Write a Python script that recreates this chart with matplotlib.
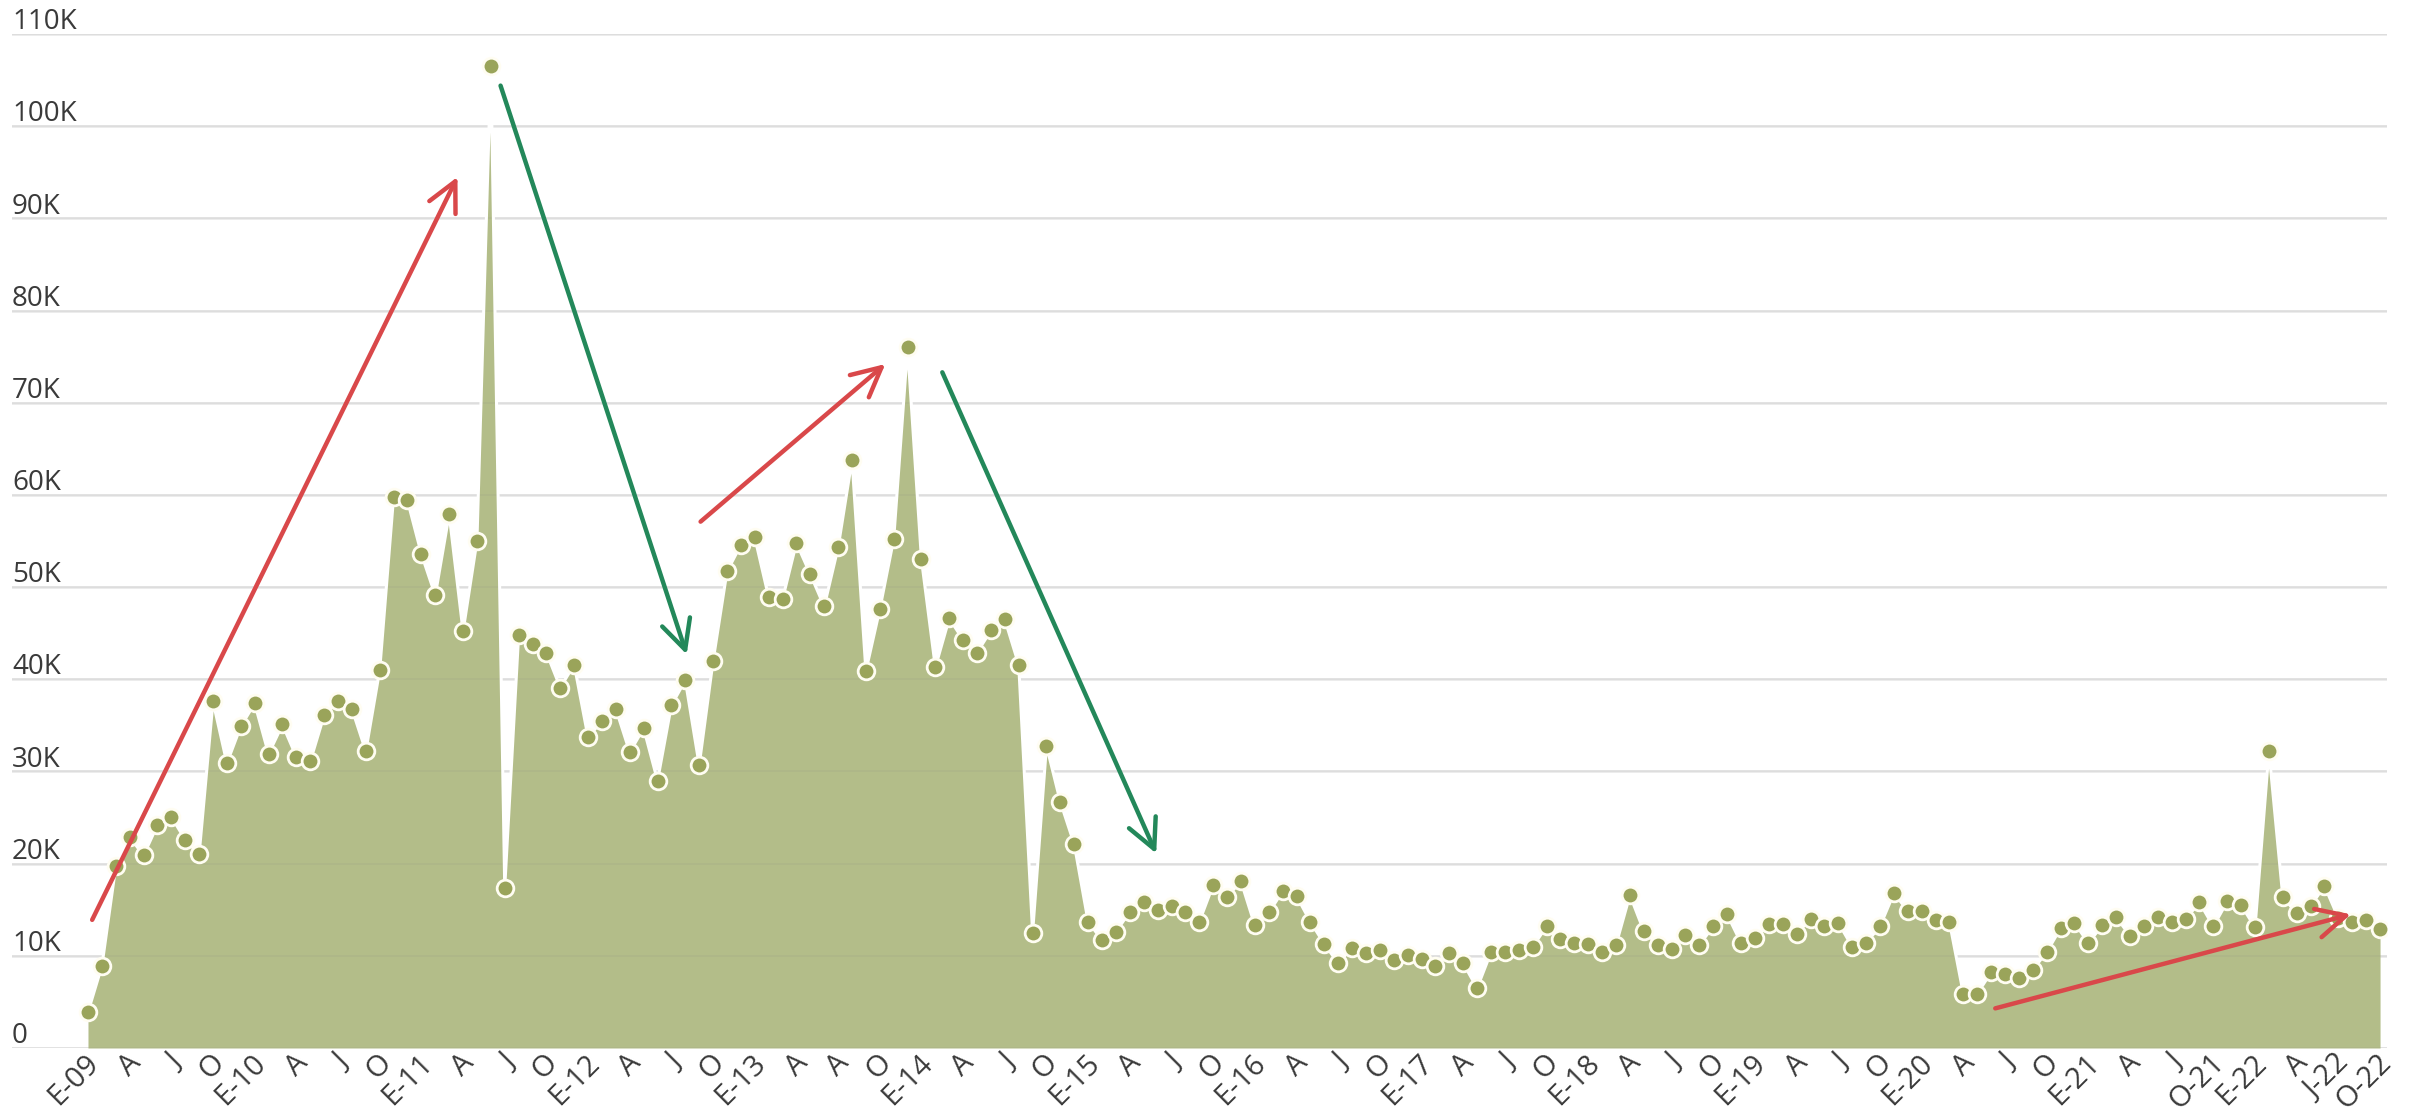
import numpy as np
import matplotlib
matplotlib.use("Agg")
from matplotlib import pyplot as plt
from matplotlib import transforms

plt.rcParams['font.family'] = ['Open Sans', 'DejaVu Sans']

# Monthly values, Jan 2009 - Oct 2022 (thousands)
values_k = [
    3.9, 8.9, 19.7, 22.9, 20.9, 24.2, 25.1, 22.6, 21.0, 37.6, 30.9, 34.9,
    37.4, 31.9, 35.1, 31.6, 31.1, 36.1, 37.6, 36.8, 32.2, 41.0, 59.8, 59.4,
    53.6, 49.1, 57.9, 45.2, 55.0, 106.5, 17.4, 44.8, 43.8, 42.9, 39.1, 41.6,
    33.7, 35.5, 36.8, 32.1, 34.7, 29.0, 37.2, 39.9, 30.7, 42.0, 51.7, 54.6,
    55.4, 48.9, 48.7, 54.8, 51.4, 47.9, 54.3, 63.8, 40.9, 47.6, 55.2, 76.0,
    53.0, 41.3, 46.6, 44.3, 42.9, 45.3, 46.5, 41.6, 12.5, 32.8, 26.7, 22.1,
    13.7, 11.7, 12.6, 14.8, 15.8, 15.0, 15.4, 14.7, 13.7, 17.7, 16.4, 18.1,
    13.3, 14.7, 17.0, 16.5, 13.7, 11.3, 9.2, 10.9, 10.3, 10.6, 9.6, 10.1,
    9.7, 8.9, 10.3, 9.2, 6.5, 10.4, 10.4, 10.6, 11.0, 13.2, 11.8, 11.4,
    11.3, 10.4, 11.2, 16.6, 12.7, 11.2, 10.7, 12.3, 11.2, 13.2, 14.5, 11.4,
    11.9, 13.4, 13.5, 12.4, 14.0, 13.2, 13.6, 11.0, 11.4, 13.2, 16.8, 14.9,
    14.9, 13.9, 13.7, 5.9, 5.9, 8.2, 8.0, 7.6, 8.5, 10.4, 13.0, 13.6,
    11.4, 13.3, 14.2, 12.2, 13.2, 14.2, 13.7, 14.0, 15.8, 13.2, 15.9, 15.5,
    13.1, 32.2, 16.4, 14.6, 15.4, 17.6, 14.1, 13.7, 13.9, 12.9,
]

# one label every three months
tick_labels = [
    "E-09", "A", "J", "O", "E-10", "A", "J", "O", "E-11", "A", "J", "O",
    "E-12", "A", "J", "O", "E-13", "A", "A", "O", "E-14", "A", "J", "O",
    "E-15", "A", "J", "O", "E-16", "A", "J", "O", "E-17", "A", "J", "O",
    "E-18", "A", "J", "O", "E-19", "A", "J", "O", "E-20", "A", "J", "O",
    "E-21", "A", "J", "O-21", "E-22", "A", "J-22", "O-22",
]

y_ticks = [0, 10000, 20000, 30000, 40000, 50000, 60000, 70000, 80000,
           90000, 100000, 110000]
y_tick_labels = ["0", "10K", "20K", "30K", "40K", "50K", "60K", "70K", "80K",
                 "90K", "100K", "110K"]

# Trend arrows drawn over the chart: (start month, start value, end month, end value)
red_arrows = [
    (0.3, 13900, 26.6, 94500),
    (44.1, 57100, 57.4, 74200),
    (137.3, 4300, 162.9, 14500),
]
green_arrows = [
    (29.7, 104400, 43.1, 42700),
    (61.5, 73300, 76.9, 21100),
]

AREA = '#b3bd89'
DOT = '#9aa45a'
RED = '#d9484a'
GREEN = '#23885a'
TEXT = '#3a3a3a'

values = np.array(values_k) * 1000
months = np.arange(len(values))

fig = plt.figure(figsize=(24.19, 11.11), dpi=100)
ax = fig.add_axes([12/2419, 63/1111, 2375/2419, 1014/1111])

ax.fill_between(months, 0, values, color=AREA, lw=0, zorder=2)
ax.plot(months, values, color='white', lw=2.2, zorder=3)
ax.plot(months, values, ls='none', marker='o', ms=12, mfc=DOT,
        mec='#fffdf2', mew=2.0, zorder=4)

# grid: light behind, faint on top of the area
for yv in y_ticks:
    ax.axhline(yv, color='#e6e6e6', lw=1.8, zorder=1)
    ax.axhline(yv, color='#7f7f7f', lw=1.2, alpha=0.10, zorder=2.5)

for x0, y0, x1, y1 in red_arrows:
    ax.annotate('', xy=(x1, y1), xytext=(x0, y0), zorder=5,
                arrowprops=dict(arrowstyle='->,head_length=0.7,head_width=0.35',
                                color=RED, lw=3.2, mutation_scale=30,
                                shrinkA=0, shrinkB=0))
for x0, y0, x1, y1 in green_arrows:
    ax.annotate('', xy=(x1, y1), xytext=(x0, y0), zorder=5,
                arrowprops=dict(arrowstyle='->,head_length=0.7,head_width=0.35',
                                color=GREEN, lw=3.2, mutation_scale=30,
                                shrinkA=0, shrinkB=0))

ax.set_xlim(-5.47, 165.5)
ax.set_ylim(0, 110000)
for s in ax.spines.values():
    s.set_visible(False)

# y labels sit on top of their grid line, left aligned
ax.set_yticks([])
trans = transforms.blended_transform_factory(ax.transAxes, ax.transData)
offset = transforms.ScaledTranslation(0, 3.5/72, fig.dpi_scale_trans)
for yv, lab in zip(y_ticks, y_tick_labels):
    ax.text(0, yv, lab, transform=trans + offset, ha='left', va='baseline',
            fontsize=20, color=TEXT)

ax.set_xticks(months[::3])
ax.set_xticklabels(tick_labels, rotation=45, ha='right', va='center',
                   rotation_mode='anchor', fontsize=21, color=TEXT)
ax.tick_params(axis='x', length=0, pad=8)
shift = transforms.ScaledTranslation(5/72, 0, fig.dpi_scale_trans)
for lab in ax.get_xticklabels():
    lab.set_transform(lab.get_transform() + shift)

fig.savefig('out.png', dpi=100, facecolor='white')
